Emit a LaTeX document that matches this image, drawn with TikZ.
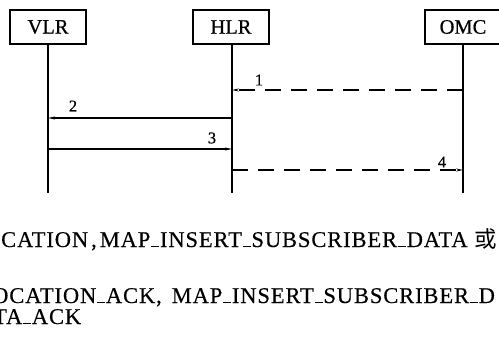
\documentclass[tikz,border=0pt]{standalone}
\usepackage{fontspec}
\setmainfont{Liberation Serif}
\newfontfamily\bodyfont[LetterSpace=4,FakeBold=0.3]{Liberation Serif}
\newfontfamily\labelfont[FakeBold=0.6]{Liberation Serif}
\newfontfamily\cjk{Noto Sans CJK SC}
\usetikzlibrary{arrows.meta}
% low rule used for the underscores in the message names
\newcommand{\usc}{\kern0.8pt\rule[-0.3pt]{8pt}{0.9pt}\kern0.8pt}
\begin{document}
\begin{tikzpicture}[x=1pt,y=-1pt,
  entity/.style={draw,line width=1.8pt,minimum width=76pt,minimum height=34pt,
    inner sep=0pt,font=\labelfont\fontsize{20.5}{22}\selectfont},
  life/.style={line width=1.1pt},
  msg/.style={line width=1.1pt,-{Stealth[length=7pt,width=3pt]}},
  dmsg/.style={msg,dash pattern=on 16pt off 10pt},
  num/.style={inner sep=0pt,font=\labelfont\fontsize{16.5}{18}\selectfont},
  body/.style={anchor=base west,inner sep=0pt,font=\bodyfont\fontsize{22.5}{25}\selectfont}]
\useasboundingbox (0,0) rectangle (499,364);
\clip (0,0) rectangle (499,364);

% entities
\node[entity] (vlr) at (48,27) {VLR};
\node[entity] (hlr) at (231,27) {HLR};
\node[entity] (omc) at (463,27) {OMC};

% lifelines
\coordinate (vlrEnd) at (48,193);
\coordinate (hlrEnd) at (232,193);
\coordinate (omcEnd) at (463,193);
\draw[life] (vlr.south) -- (vlrEnd);
\draw[life] (hlr.south -| hlrEnd) -- (hlrEnd);
\draw[life] (omc.south) -- (omcEnd);

% message anchors on the lifelines
\coordinate (o1) at (463,90);  \coordinate (h1) at (232,90);
\coordinate (h2) at (232,118); \coordinate (v2) at (48,118);
\coordinate (v3) at (48,149);  \coordinate (h3) at (232,149);
\coordinate (h4) at (232,170); \coordinate (o4) at (463,170);

% messages
\draw[dmsg] (o1) -- (h1);
\draw[msg] (h2) -- (v2);
\draw[msg] (v3) -- (h3);
\draw[dmsg] (h4) -- (o4);

% step numbers
\node[num] (n1) at (259,80) {1};
\node[num] (n2) at (73,106) {2};
\node[num] (n3) at (212,138) {3};
\node[num] (n4) at (442,162) {4};

% message names
\node[body] (t1) at (1,247) {CATION\kern3pt,\kern3pt MAP\usc INSERT\usc SUBSCRIBER\usc DATA {\cjk 或}};
\node[body] (t2) at (-8,303) {OCATION\usc ACK,\kern10pt MAP\usc INSERT\usc SUBSCRIBER\usc D};
\node[body] (t3) at (-7,324) {TA\usc ACK};
\end{tikzpicture}
\end{document}
